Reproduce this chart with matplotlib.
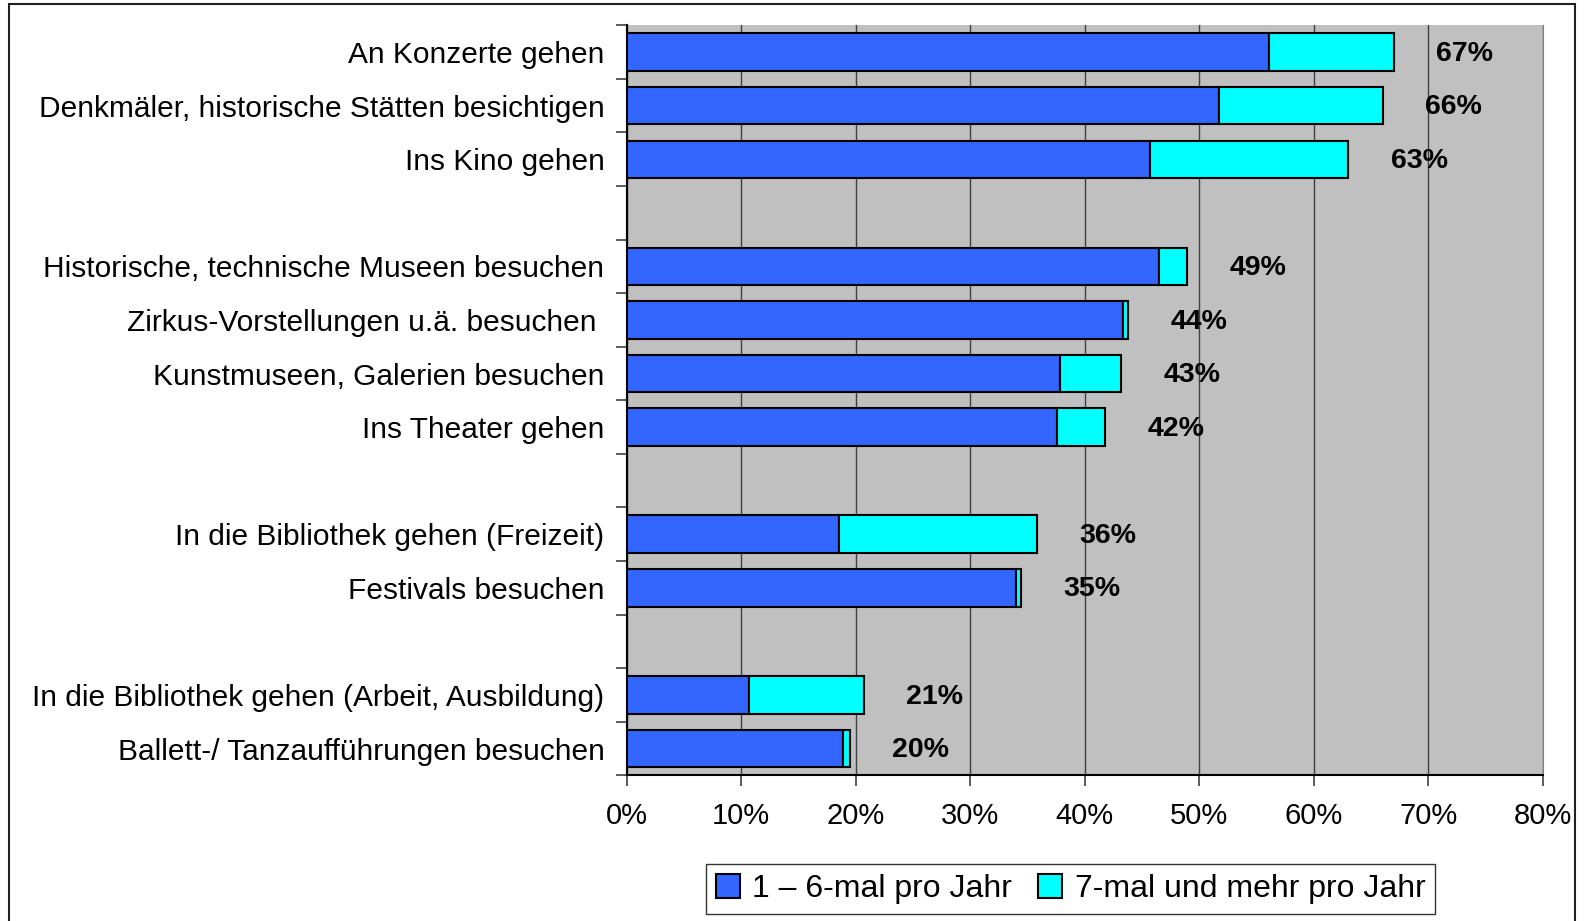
import matplotlib.pyplot as plt
import numpy as np
from matplotlib.patches import Rectangle

plt.rcParams['font.family'] = ['Liberation Sans', 'DejaVu Sans']

# activities, grouped (a blank row sits between groups)
groups = [
    ["An Konzerte gehen",
     "Denkmäler, historische Stätten besichtigen",
     "Ins Kino gehen"],
    ["Historische, technische Museen besuchen",
     "Zirkus-Vorstellungen u.ä. besuchen ",
     "Kunstmuseen, Galerien besuchen",
     "Ins Theater gehen"],
    ["In die Bibliothek gehen (Freizeit)",
     "Festivals besuchen"],
    ["In die Bibliothek gehen (Arbeit, Ausbildung)",
     "Ballett-/ Tanzaufführungen besuchen"],
]
# 1-6 times per year / 7 times and more per year (%)
selten = [56.1, 51.7, 45.7, 46.5, 43.3, 37.8, 37.6, 18.5, 34.0, 10.7, 18.9]
oft = [10.9, 14.3, 17.3, 2.4, 0.5, 5.4, 4.2, 17.3, 0.4, 10.0, 0.6]
gesamt = [67, 66, 63, 49, 44, 43, 42, 36, 35, 21, 20]
xticks = [0, 10, 20, 30, 40, 50, 60, 70, 80]

# row positions incl. empty rows between groups
labels = []
ypos = []
row = 0
for g in groups:
    for name in g:
        labels.append(name)
        ypos.append(row)
        row += 1
    row += 1
nrows = row - 1

fig = plt.figure(figsize=(15.86, 9.21), dpi=100)
ax = fig.add_axes([0.3951, 0.1582, 0.5778, 0.8143])
ax.set_facecolor('#C0C0C0')

ax.barh(ypos, selten, height=0.7, color='#3366FF', edgecolor='black',
        linewidth=1.5, label='1 \u2013 6-mal pro Jahr', zorder=3)
ax.barh(ypos, oft, left=selten, height=0.7, color='#00FFFF', edgecolor='black',
        linewidth=1.5, label='7-mal und mehr pro Jahr', zorder=3)

for y, s, o, t in zip(ypos, selten, oft, gesamt):
    ax.text(s + o + 3.7, y + 0.03, f"{t}%", va='center', ha='left',
            fontsize=20.5, fontweight='bold', zorder=4)

ax.set_xlim(0, 80)
ax.set_ylim(nrows - 0.5, -0.5)
ax.set_xticks(xticks)
ax.set_xticklabels([f"{v}%" for v in xticks], fontsize=21)
ax.xaxis.grid(True, color='#404040', linewidth=1, zorder=0)
ax.set_axisbelow(True)

# category labels, ticks at row borders
ax.set_yticks(ypos)
ax.set_yticklabels(labels, fontsize=21.5)
ax.tick_params(axis='y', length=0, pad=16)
ax.set_yticks(np.arange(-0.5, nrows, 1.0), minor=True)
ax.tick_params(axis='y', which='minor', length=8, width=1.2, color='#404040')
ax.tick_params(axis='x', length=8, width=1.2, color='#404040', pad=11)

ax.spines['top'].set_visible(False)
ax.spines['right'].set_color('#808080')
ax.spines['left'].set_linewidth(1.5)
ax.spines['bottom'].set_linewidth(1.5)

leg = ax.legend(loc='center', bbox_to_anchor=(0.675, 0.0347),
                bbox_transform=fig.transFigure, ncol=2, fontsize=23,
                frameon=True, fancybox=False, edgecolor='black',
                handlelength=0.75, handleheight=0.75, handletextpad=0.4,
                columnspacing=0.8, borderpad=0.3, borderaxespad=0)
leg.get_frame().set_linewidth(1.0)

# outer chart frame
fig.patches.append(Rectangle((9 / 1586, -0.1), 1566 / 1586, 1.1 - 4.5 / 921,
                             transform=fig.transFigure, fill=False,
                             edgecolor='#202020', linewidth=1.5))

fig.savefig('out.png', dpi=100)
